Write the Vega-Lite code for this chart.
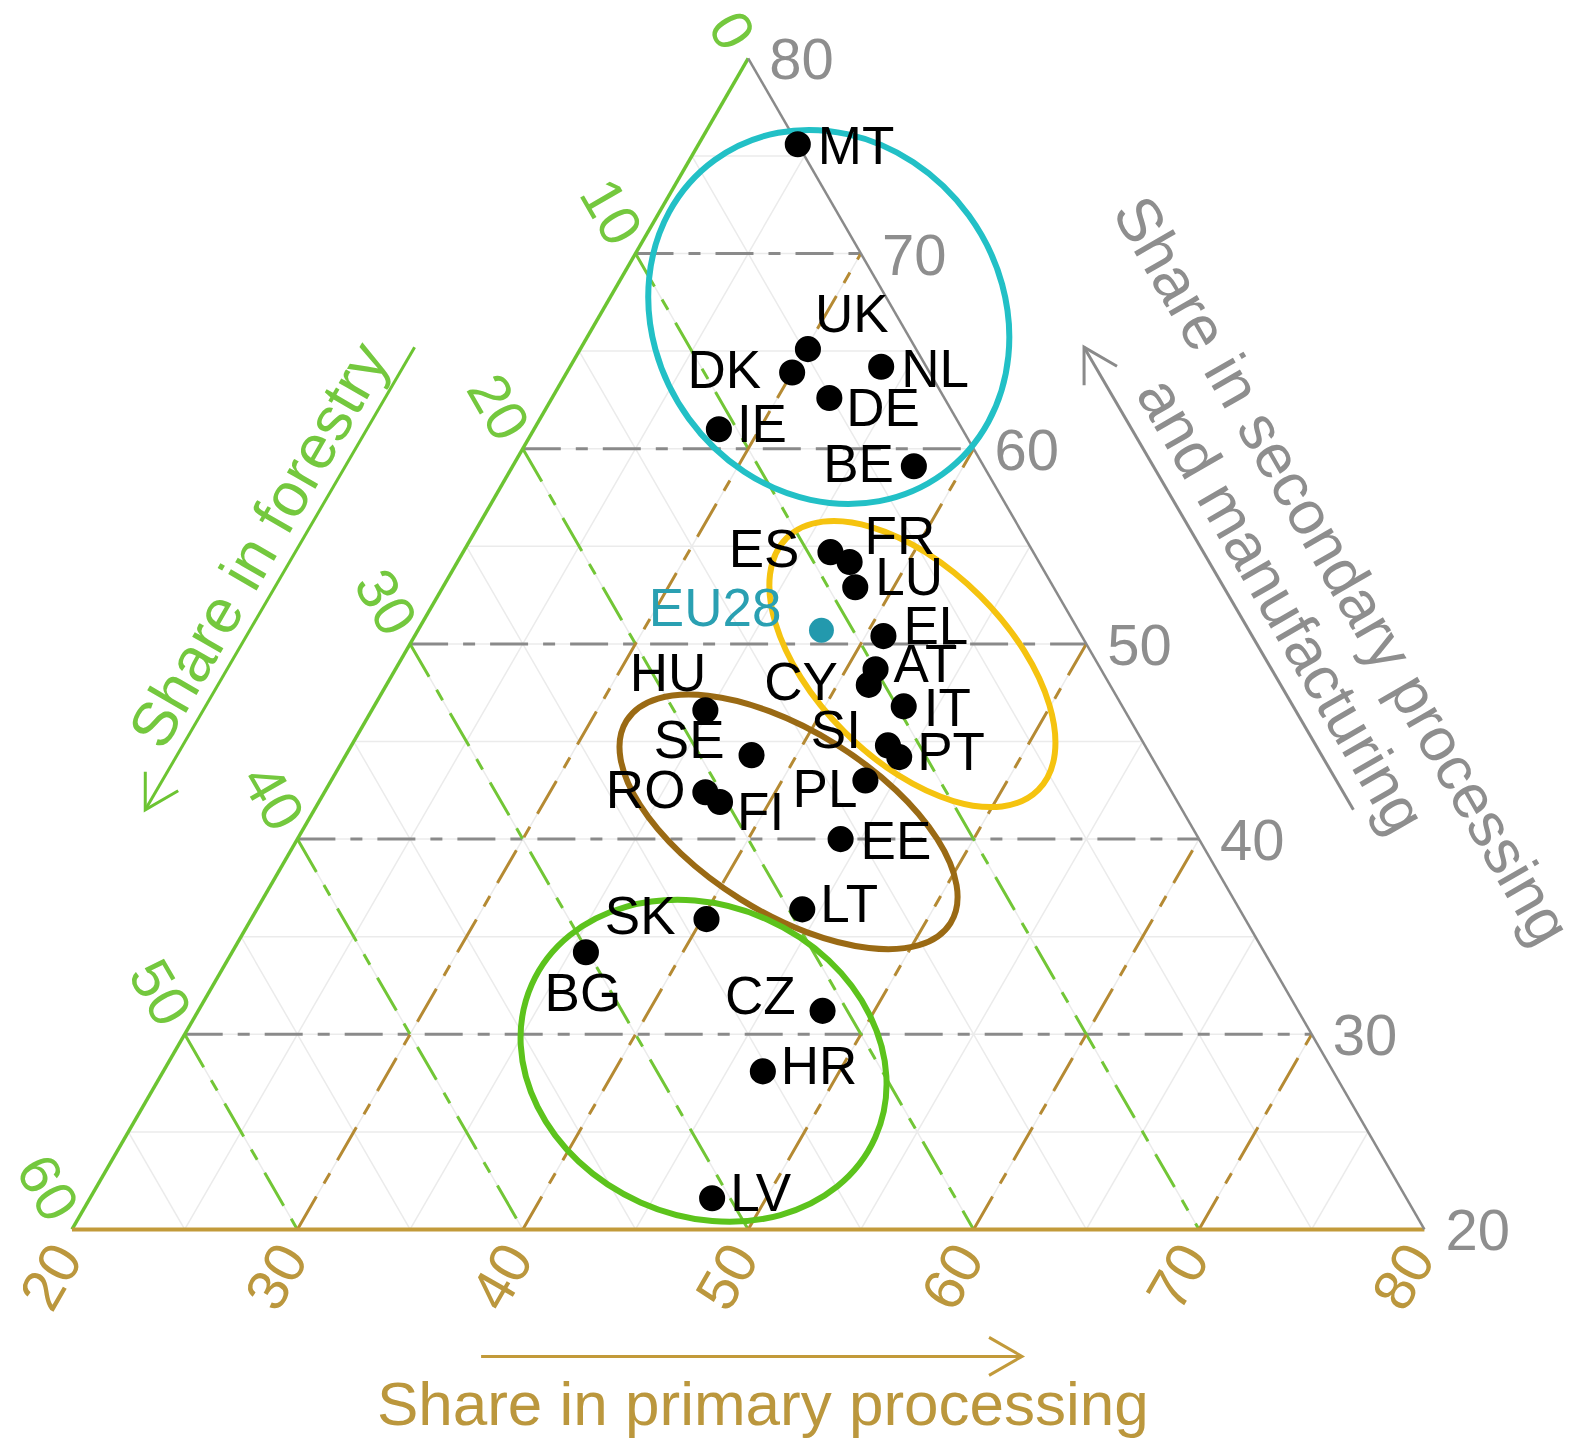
{
  "$schema": "https://vega.github.io/schema/vega-lite/v6.json",
  "width": 1587,
  "height": 1449,
  "autosize": "none",
  "padding": 0,
  "background": "#ffffff",
  "config": {"view": {"stroke": null}},
  "datasets": {
    "countries": [
      {"code": "MT", "forestry": 0.0, "primary": 24.4, "secondary": 75.6},
      {"code": "UK", "forestry": 4.8, "primary": 30.1, "secondary": 65.1},
      {"code": "DK", "forestry": 6.1, "primary": 30.0, "secondary": 63.9},
      {"code": "NL", "forestry": 2.0, "primary": 33.8, "secondary": 64.2},
      {"code": "DE", "forestry": 5.1, "primary": 32.3, "secondary": 62.6},
      {"code": "IE", "forestry": 10.8, "primary": 28.2, "secondary": 61.0},
      {"code": "BE", "forestry": 3.1, "primary": 37.8, "secondary": 59.1},
      {"code": "ES", "forestry": 9.0, "primary": 36.3, "secondary": 54.7},
      {"code": "FR", "forestry": 8.4, "primary": 37.4, "secondary": 54.2},
      {"code": "LU", "forestry": 8.8, "primary": 38.3, "secondary": 52.9},
      {"code": "EU28", "forestry": 11.4, "primary": 37.9, "secondary": 50.7},
      {"code": "EL", "forestry": 8.8, "primary": 40.8, "secondary": 50.4},
      {"code": "AT", "forestry": 10.0, "primary": 41.3, "secondary": 48.7},
      {"code": "CY", "forestry": 10.7, "primary": 41.4, "secondary": 47.9},
      {"code": "IT", "forestry": 9.7, "primary": 43.5, "secondary": 46.8},
      {"code": "SI", "forestry": 11.4, "primary": 43.8, "secondary": 44.8},
      {"code": "PT", "forestry": 11.2, "primary": 44.6, "secondary": 44.2},
      {"code": "HU", "forestry": 18.6, "primary": 34.8, "secondary": 46.6},
      {"code": "SE", "forestry": 17.7, "primary": 38.0, "secondary": 44.3},
      {"code": "RO", "forestry": 20.7, "primary": 36.9, "secondary": 42.4},
      {"code": "FI", "forestry": 20.3, "primary": 37.8, "secondary": 41.9},
      {"code": "PL", "forestry": 13.3, "primary": 43.7, "secondary": 43.0},
      {"code": "EE", "forestry": 15.9, "primary": 44.1, "secondary": 40.0},
      {"code": "LT", "forestry": 19.4, "primary": 44.2, "secondary": 36.4},
      {"code": "SK", "forestry": 23.9, "primary": 40.2, "secondary": 35.9},
      {"code": "BG", "forestry": 30.1, "primary": 35.7, "secondary": 34.2},
      {"code": "CZ", "forestry": 21.1, "primary": 47.7, "secondary": 31.2},
      {"code": "HR", "forestry": 25.3, "primary": 46.6, "secondary": 28.1},
      {"code": "LV", "forestry": 30.8, "primary": 47.6, "secondary": 21.6}
    ],
    "clusters": [
      {"cluster": "cyan", "primary": 30.2, "secondary": 66.75},
      {"cluster": "gold", "primary": 42.8, "secondary": 48.97},
      {"cluster": "brown", "primary": 41.35, "secondary": 40.88},
      {"cluster": "green", "primary": 43.7, "secondary": 28.64}
    ],
    "grid": [
      {"axis": "secondary", "value": 20}, {"axis": "secondary", "value": 25},
      {"axis": "secondary", "value": 30}, {"axis": "secondary", "value": 35},
      {"axis": "secondary", "value": 40}, {"axis": "secondary", "value": 45},
      {"axis": "secondary", "value": 50}, {"axis": "secondary", "value": 55},
      {"axis": "secondary", "value": 60}, {"axis": "secondary", "value": 65},
      {"axis": "secondary", "value": 70}, {"axis": "secondary", "value": 75},
      {"axis": "forestry", "value": 0}, {"axis": "forestry", "value": 5},
      {"axis": "forestry", "value": 10}, {"axis": "forestry", "value": 15},
      {"axis": "forestry", "value": 20}, {"axis": "forestry", "value": 25},
      {"axis": "forestry", "value": 30}, {"axis": "forestry", "value": 35},
      {"axis": "forestry", "value": 40}, {"axis": "forestry", "value": 45},
      {"axis": "forestry", "value": 50}, {"axis": "forestry", "value": 55},
      {"axis": "primary", "value": 20}, {"axis": "primary", "value": 25},
      {"axis": "primary", "value": 30}, {"axis": "primary", "value": 35},
      {"axis": "primary", "value": 40}, {"axis": "primary", "value": 45},
      {"axis": "primary", "value": 50}, {"axis": "primary", "value": 55},
      {"axis": "primary", "value": 60}, {"axis": "primary", "value": 65},
      {"axis": "primary", "value": 70}, {"axis": "primary", "value": 75}
    ],
    "ticks": [
      {"axis": "forestry", "value": 0}, {"axis": "forestry", "value": 10},
      {"axis": "forestry", "value": 20}, {"axis": "forestry", "value": 30},
      {"axis": "forestry", "value": 40}, {"axis": "forestry", "value": 50},
      {"axis": "forestry", "value": 60},
      {"axis": "primary", "value": 20}, {"axis": "primary", "value": 30},
      {"axis": "primary", "value": 40}, {"axis": "primary", "value": 50},
      {"axis": "primary", "value": 60}, {"axis": "primary", "value": 70},
      {"axis": "primary", "value": 80},
      {"axis": "secondary", "value": 20}, {"axis": "secondary", "value": 30},
      {"axis": "secondary", "value": 40}, {"axis": "secondary", "value": 50},
      {"axis": "secondary", "value": 60}, {"axis": "secondary", "value": 70},
      {"axis": "secondary", "value": 80}
    ],
    "arrows": [
      {"axis": "forestry", "p1": 12.6, "s1": 65.2, "p2": 12.5, "s2": 41.5},
      {"axis": "primary", "p1": 41.4, "s1": 13.5, "p2": 65.4, "s2": 13.5},
      {"axis": "secondary", "p1": 66.1, "s1": 41.5, "p2": 42.3, "s2": 65.2}
    ],
    "titles": [
      {"axis": "forestry", "line1": "Share in forestry", "line2": "", "primary": 10.7, "secondary": 55.1},
      {"axis": "primary", "line1": "Share in primary processing", "line2": "", "primary": 55.1, "secondary": 11.1},
      {"axis": "secondary", "line1": "Share in secondary processing", "line2": "and manufacturing", "primary": 58.6, "secondary": 52.9}
    ]
  },
  "encoding": {
    "x": {"field": "X", "type": "quantitative", "scale": {"domain": [16.806, 87.214], "nice": false, "zero": false}, "axis": null},
    "y": {"field": "Y", "type": "quantitative", "scale": {"domain": [8.755, 82.987], "nice": false, "zero": false}, "axis": null}
  },
  "layer": [
    {
      "data": {"name": "grid"},
      "transform": [
        {"calculate": "datum.axis == 'secondary' ? 20 : (datum.axis == 'forestry' ? 20 : datum.value)", "as": "pa"},
        {"calculate": "datum.axis == 'secondary' ? datum.value : (datum.axis == 'forestry' ? 80 - datum.value : 20)", "as": "sa"},
        {"calculate": "datum.axis == 'secondary' ? 100 - datum.value : (datum.axis == 'forestry' ? 80 - datum.value : datum.value)", "as": "pb"},
        {"calculate": "datum.axis == 'secondary' ? datum.value : (datum.axis == 'forestry' ? 20 : 100 - datum.value)", "as": "sb"},
        {"calculate": "datum.pa + (datum.sa - 20) / 2", "as": "X"},
        {"calculate": "datum.sa", "as": "Y"},
        {"calculate": "datum.pb + (datum.sb - 20) / 2", "as": "X2"},
        {"calculate": "datum.sb", "as": "Y2"},
        {"calculate": "datum.axis == 'forestry' ? datum.value == 0 : datum.value == 20", "as": "isEdge"}
      ],
      "layer": [
        {
          "transform": [{"filter": "!datum.isEdge"}],
          "mark": {"type": "rule", "stroke": "#ebebeb", "strokeWidth": 1.5},
          "encoding": {"x2": {"field": "X2"}, "y2": {"field": "Y2"}}
        },
        {
          "transform": [{"filter": "!datum.isEdge && datum.value % 10 == 0 && datum.axis == 'secondary'"}],
          "mark": {"type": "rule", "stroke": "#8a8a8a", "strokeWidth": 3, "strokeDash": [38, 15, 12, 15]},
          "encoding": {"x2": {"field": "X2"}, "y2": {"field": "Y2"}}
        },
        {
          "transform": [{"filter": "!datum.isEdge && datum.value % 10 == 0 && datum.axis == 'forestry'"}],
          "mark": {"type": "rule", "stroke": "#72c636", "strokeWidth": 3, "strokeDash": [38, 15, 12, 15]},
          "encoding": {"x2": {"field": "X2"}, "y2": {"field": "Y2"}}
        },
        {
          "transform": [{"filter": "!datum.isEdge && datum.value % 10 == 0 && datum.axis == 'primary'"}],
          "mark": {"type": "rule", "stroke": "#b58a33", "strokeWidth": 3, "strokeDash": [38, 15, 12, 15]},
          "encoding": {"x2": {"field": "X2"}, "y2": {"field": "Y2"}}
        },
        {
          "transform": [{"filter": "datum.isEdge && datum.axis == 'primary'"}],
          "mark": {"type": "rule", "stroke": "#6cc432", "strokeWidth": 3.5},
          "encoding": {"x2": {"field": "X2"}, "y2": {"field": "Y2"}}
        },
        {
          "transform": [{"filter": "datum.isEdge && datum.axis == 'secondary'"}],
          "mark": {"type": "rule", "stroke": "#c29a3a", "strokeWidth": 4},
          "encoding": {"x2": {"field": "X2"}, "y2": {"field": "Y2"}}
        },
        {
          "transform": [{"filter": "datum.isEdge && datum.axis == 'forestry'"}],
          "mark": {"type": "rule", "stroke": "#8a8a8a", "strokeWidth": 2.5},
          "encoding": {"x2": {"field": "X2"}, "y2": {"field": "Y2"}}
        }
      ]
    },
    {
      "data": {"name": "clusters"},
      "transform": [
        {"calculate": "datum.primary + (datum.secondary - 20) / 2", "as": "X"},
        {"calculate": "datum.secondary", "as": "Y"}
      ],
      "layer": [
        {
          "transform": [{"filter": "datum.cluster == 'cyan'"}],
          "mark": {"type": "point", "shape": "M -194 0 A 194 173 0 1 1 194 0 A 194 173 0 1 1 -194 0 Z", "size": 4, "angle": 54, "filled": false, "stroke": "#22c0c6", "strokeWidth": 6, "opacity": 1}
        },
        {
          "transform": [{"filter": "datum.cluster == 'gold'"}],
          "mark": {"type": "point", "shape": "M -178 0 A 178 96 0 1 1 178 0 A 178 96 0 1 1 -178 0 Z", "size": 4, "angle": 45, "filled": false, "stroke": "#f5c30f", "strokeWidth": 6, "opacity": 1}
        },
        {
          "transform": [{"filter": "datum.cluster == 'brown'"}],
          "mark": {"type": "point", "shape": "M -191 0 A 191 91 0 1 1 191 0 A 191 91 0 1 1 -191 0 Z", "size": 4, "angle": 32, "filled": false, "stroke": "#9a6a14", "strokeWidth": 6, "opacity": 1}
        },
        {
          "transform": [{"filter": "datum.cluster == 'green'"}],
          "mark": {"type": "point", "shape": "M -188 0 A 188 155 0 1 1 188 0 A 188 155 0 1 1 -188 0 Z", "size": 4, "angle": 24, "filled": false, "stroke": "#5cc31c", "strokeWidth": 6, "opacity": 1}
        }
      ]
    },
    {
      "data": {"name": "countries"},
      "transform": [
        {"calculate": "datum.primary + (datum.secondary - 20) / 2", "as": "X"},
        {"calculate": "datum.secondary", "as": "Y"}
      ],
      "layer": [
        {
          "transform": [{"filter": "datum.code != 'EU28'"}],
          "mark": {"type": "circle", "size": 680, "color": "#000000", "opacity": 1}
        },
        {
          "transform": [{"filter": "datum.code == 'EU28'"}],
          "mark": {"type": "circle", "size": 620, "color": "#2399ad", "opacity": 1}
        },
        {
          "transform": [{"filter": {"field": "code", "oneOf": ["MT", "NL", "IT", "EE"]}}],
          "mark": {"type": "text", "font": "Liberation Sans", "fontSize": 53, "color": "#000000", "align": "left", "baseline": "middle", "dx": 20, "dy": 4},
          "encoding": {"text": {"field": "code"}}
        },
        {
          "transform": [{"filter": {"field": "code", "oneOf": ["IE", "AT", "PT", "LT", "HR", "LV"]}}],
          "mark": {"type": "text", "font": "Liberation Sans", "fontSize": 53, "color": "#000000", "align": "left", "baseline": "middle", "dx": 18, "dy": -3},
          "encoding": {"text": {"field": "code"}}
        },
        {
          "transform": [{"filter": {"field": "code", "oneOf": ["LU", "EL"]}}],
          "mark": {"type": "text", "font": "Liberation Sans", "fontSize": 53, "color": "#000000", "align": "left", "baseline": "middle", "dx": 20, "dy": -8},
          "encoding": {"text": {"field": "code"}}
        },
        {
          "transform": [{"filter": {"field": "code", "oneOf": ["DE", "FI"]}}],
          "mark": {"type": "text", "font": "Liberation Sans", "fontSize": 53, "color": "#000000", "align": "left", "baseline": "middle", "dx": 17, "dy": 12},
          "encoding": {"text": {"field": "code"}}
        },
        {
          "transform": [{"filter": {"field": "code", "oneOf": ["FR"]}}],
          "mark": {"type": "text", "font": "Liberation Sans", "fontSize": 53, "color": "#000000", "align": "left", "baseline": "middle", "dx": 15, "dy": -24},
          "encoding": {"text": {"field": "code"}}
        },
        {
          "transform": [{"filter": {"field": "code", "oneOf": ["UK"]}}],
          "mark": {"type": "text", "font": "Liberation Sans", "fontSize": 53, "color": "#000000", "align": "left", "baseline": "middle", "dx": 7, "dy": -33},
          "encoding": {"text": {"field": "code"}}
        },
        {
          "transform": [{"filter": {"field": "code", "oneOf": ["BE", "RO"]}}],
          "mark": {"type": "text", "font": "Liberation Sans", "fontSize": 53, "color": "#000000", "align": "right", "baseline": "middle", "dx": -20, "dy": 0},
          "encoding": {"text": {"field": "code"}}
        },
        {
          "transform": [{"filter": {"field": "code", "oneOf": ["DK", "SK", "ES", "CY"]}}],
          "mark": {"type": "text", "font": "Liberation Sans", "fontSize": 53, "color": "#000000", "align": "right", "baseline": "middle", "dx": -31, "dy": -1},
          "encoding": {"text": {"field": "code"}}
        },
        {
          "transform": [{"filter": {"field": "code", "oneOf": ["SI", "CZ", "SE"]}}],
          "mark": {"type": "text", "font": "Liberation Sans", "fontSize": 53, "color": "#000000", "align": "right", "baseline": "middle", "dx": -27, "dy": -13},
          "encoding": {"text": {"field": "code"}}
        },
        {
          "transform": [{"filter": {"field": "code", "oneOf": ["EU28"]}}],
          "mark": {"type": "text", "font": "Liberation Sans", "fontSize": 53, "color": "#2aa0b2", "align": "right", "baseline": "middle", "dx": -40, "dy": -20},
          "encoding": {"text": {"field": "code"}}
        },
        {
          "transform": [{"filter": {"field": "code", "oneOf": ["HU"]}}],
          "mark": {"type": "text", "font": "Liberation Sans", "fontSize": 53, "color": "#000000", "align": "right", "baseline": "middle", "dx": 1, "dy": -35},
          "encoding": {"text": {"field": "code"}}
        },
        {
          "transform": [{"filter": {"field": "code", "oneOf": ["PL"]}}],
          "mark": {"type": "text", "font": "Liberation Sans", "fontSize": 53, "color": "#000000", "align": "right", "baseline": "middle", "dx": -8, "dy": 10},
          "encoding": {"text": {"field": "code"}}
        },
        {
          "transform": [{"filter": {"field": "code", "oneOf": ["BG"]}}],
          "mark": {"type": "text", "font": "Liberation Sans", "fontSize": 53, "color": "#000000", "align": "center", "baseline": "middle", "dx": -3, "dy": 43},
          "encoding": {"text": {"field": "code"}}
        }
      ]
    },
    {
      "data": {"name": "ticks"},
      "transform": [
        {"calculate": "datum.axis == 'forestry' ? 20 : (datum.axis == 'primary' ? datum.value : 100 - datum.value)", "as": "tp"},
        {"calculate": "datum.axis == 'forestry' ? 80 - datum.value : (datum.axis == 'primary' ? 20 : datum.value)", "as": "ts"},
        {"calculate": "datum.tp + (datum.ts - 20) / 2", "as": "X"},
        {"calculate": "datum.ts", "as": "Y"}
      ],
      "layer": [
        {
          "transform": [{"filter": "datum.axis == 'forestry'"}],
          "mark": {"type": "text", "font": "Liberation Sans", "fontSize": 58, "color": "#74c83e", "align": "right", "baseline": "middle", "angle": 60, "dx": -16, "dy": 3},
          "encoding": {"text": {"field": "value"}}
        },
        {
          "transform": [{"filter": "datum.axis == 'primary'"}],
          "mark": {"type": "text", "font": "Liberation Sans", "fontSize": 58, "color": "#bb973d", "align": "right", "baseline": "middle", "angle": -60, "dx": -19, "dy": 8},
          "encoding": {"text": {"field": "value"}}
        },
        {
          "transform": [{"filter": "datum.axis == 'secondary'"}],
          "mark": {"type": "text", "font": "Liberation Sans", "fontSize": 58, "color": "#8e8e8e", "align": "left", "baseline": "middle", "dx": 21, "dy": 4},
          "encoding": {"text": {"field": "value"}}
        }
      ]
    },
    {
      "data": {"name": "arrows"},
      "transform": [
        {"calculate": "datum.p1 + (datum.s1 - 20) / 2", "as": "X"},
        {"calculate": "datum.s1", "as": "Y"},
        {"calculate": "datum.p2 + (datum.s2 - 20) / 2", "as": "X2"},
        {"calculate": "datum.s2", "as": "Y2"}
      ],
      "layer": [
        {
          "transform": [{"filter": "datum.axis == 'forestry'"}],
          "mark": {"type": "rule", "stroke": "#6cc432", "strokeWidth": 3},
          "encoding": {"x2": {"field": "X2"}, "y2": {"field": "Y2"}}
        },
        {
          "transform": [{"filter": "datum.axis == 'primary'"}],
          "mark": {"type": "rule", "stroke": "#c29a3a", "strokeWidth": 3},
          "encoding": {"x2": {"field": "X2"}, "y2": {"field": "Y2"}}
        },
        {
          "transform": [{"filter": "datum.axis == 'secondary'"}],
          "mark": {"type": "rule", "stroke": "#8a8a8a", "strokeWidth": 3},
          "encoding": {"x2": {"field": "X2"}, "y2": {"field": "Y2"}}
        },
        {
          "transform": [{"filter": "datum.axis == 'forestry'"}],
          "mark": {"type": "point", "shape": "M -33 -19 L 0 0 L -33 19", "size": 4, "angle": 120, "filled": false, "stroke": "#6cc432", "strokeWidth": 3, "opacity": 1},
          "encoding": {"x": {"field": "X2", "type": "quantitative"}, "y": {"field": "Y2", "type": "quantitative"}}
        },
        {
          "transform": [{"filter": "datum.axis == 'primary'"}],
          "mark": {"type": "point", "shape": "M -33 -19 L 0 0 L -33 19", "size": 4, "angle": 0, "filled": false, "stroke": "#c29a3a", "strokeWidth": 3, "opacity": 1},
          "encoding": {"x": {"field": "X2", "type": "quantitative"}, "y": {"field": "Y2", "type": "quantitative"}}
        },
        {
          "transform": [{"filter": "datum.axis == 'secondary'"}],
          "mark": {"type": "point", "shape": "M -33 -19 L 0 0 L -33 19", "size": 4, "angle": 240, "filled": false, "stroke": "#8a8a8a", "strokeWidth": 3, "opacity": 1},
          "encoding": {"x": {"field": "X2", "type": "quantitative"}, "y": {"field": "Y2", "type": "quantitative"}}
        }
      ]
    },
    {
      "data": {"name": "titles"},
      "transform": [
        {"calculate": "datum.primary + (datum.secondary - 20) / 2", "as": "X"},
        {"calculate": "datum.secondary", "as": "Y"}
      ],
      "layer": [
        {
          "transform": [{"filter": "datum.axis == 'forestry'"}],
          "mark": {"type": "text", "font": "Liberation Sans", "fontSize": 62, "color": "#74c83e", "align": "center", "baseline": "middle", "angle": -60, "dy": 3},
          "encoding": {"text": {"field": "line1"}}
        },
        {
          "transform": [{"filter": "datum.axis == 'primary'"}],
          "mark": {"type": "text", "font": "Liberation Sans", "fontSize": 62, "color": "#bb973d", "align": "center", "baseline": "middle", "dy": 3},
          "encoding": {"text": {"field": "line1"}}
        },
        {
          "transform": [{"filter": "datum.axis == 'secondary'"}],
          "mark": {"type": "text", "font": "Liberation Sans", "fontSize": 62, "color": "#8e8e8e", "align": "center", "baseline": "middle", "angle": 60, "dy": -32},
          "encoding": {"text": {"field": "line1"}}
        },
        {
          "transform": [{"filter": "datum.axis == 'secondary'"}],
          "mark": {"type": "text", "font": "Liberation Sans", "fontSize": 62, "color": "#8e8e8e", "align": "center", "baseline": "middle", "angle": 60, "dy": 38},
          "encoding": {"text": {"field": "line2"}}
        }
      ]
    }
  ]
}
